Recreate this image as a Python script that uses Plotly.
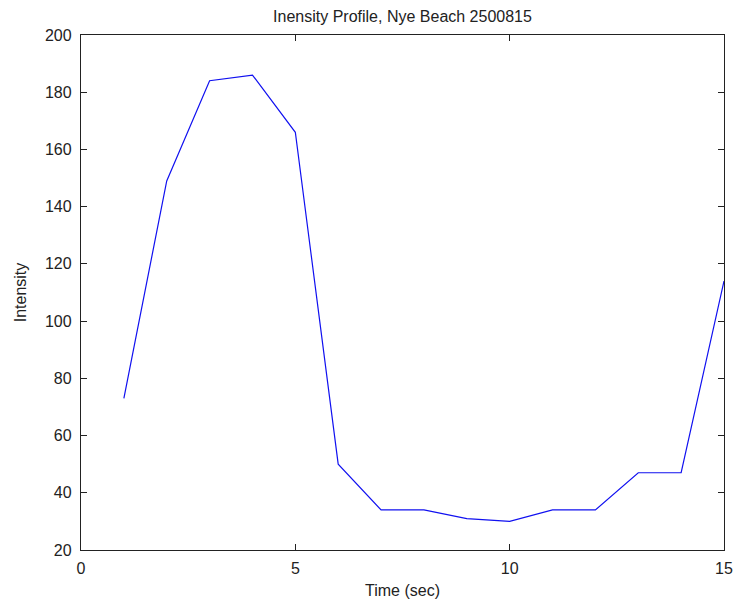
import plotly.graph_objects as go

time_sec = [1, 2, 3, 4, 5, 6, 7, 8, 9, 10, 11, 12, 13, 14, 15]
intensity = [73, 149, 184, 186, 166, 50, 34, 34, 31, 30, 34, 34, 47, 47, 114]

x_ticks = [0, 5, 10, 15]
y_ticks = [20, 40, 60, 80, 100, 120, 140, 160, 180, 200]

FONT = "Liberation Sans, Arial"
fs = 16

fig = go.Figure()
fig.add_trace(go.Scatter(x=time_sec, y=intensity, mode="lines",
                         line=dict(color="#1010f0", width=1.2), showlegend=False))

axis_common = dict(showline=True, linecolor="#222222", linewidth=1.3, mirror="ticks",
                   ticks="inside", ticklen=6, tickcolor="#222222", tickwidth=1,
                   showgrid=False, zeroline=False,
                   tickfont=dict(family=FONT, size=fs, color="#222222"))

fig.update_layout(
    width=745, height=609,
    margin=dict(l=81, r=12, t=35, b=58),
    paper_bgcolor="white", plot_bgcolor="white",
    title=dict(text="Inensity Profile, Nye Beach 2500815", x=0.5, xanchor="center",
               y=1 - 16 / 609, yanchor="middle", xref="paper",
               font=dict(family=FONT, size=fs, color="#222222")),
    xaxis=dict(range=[0, 15], tickvals=x_ticks, ticklabelstandoff=4,
               title=dict(text="Time (sec)", standoff=8,
                          font=dict(family=FONT, size=fs, color="#222222")),
               **axis_common),
    yaxis=dict(range=[20, 200], tickvals=y_ticks, ticklabelstandoff=5,
               title=dict(text="Intensity", standoff=14,
                          font=dict(family=FONT, size=fs, color="#222222")),
               **axis_common),
)

fig.write_html("out.html")
